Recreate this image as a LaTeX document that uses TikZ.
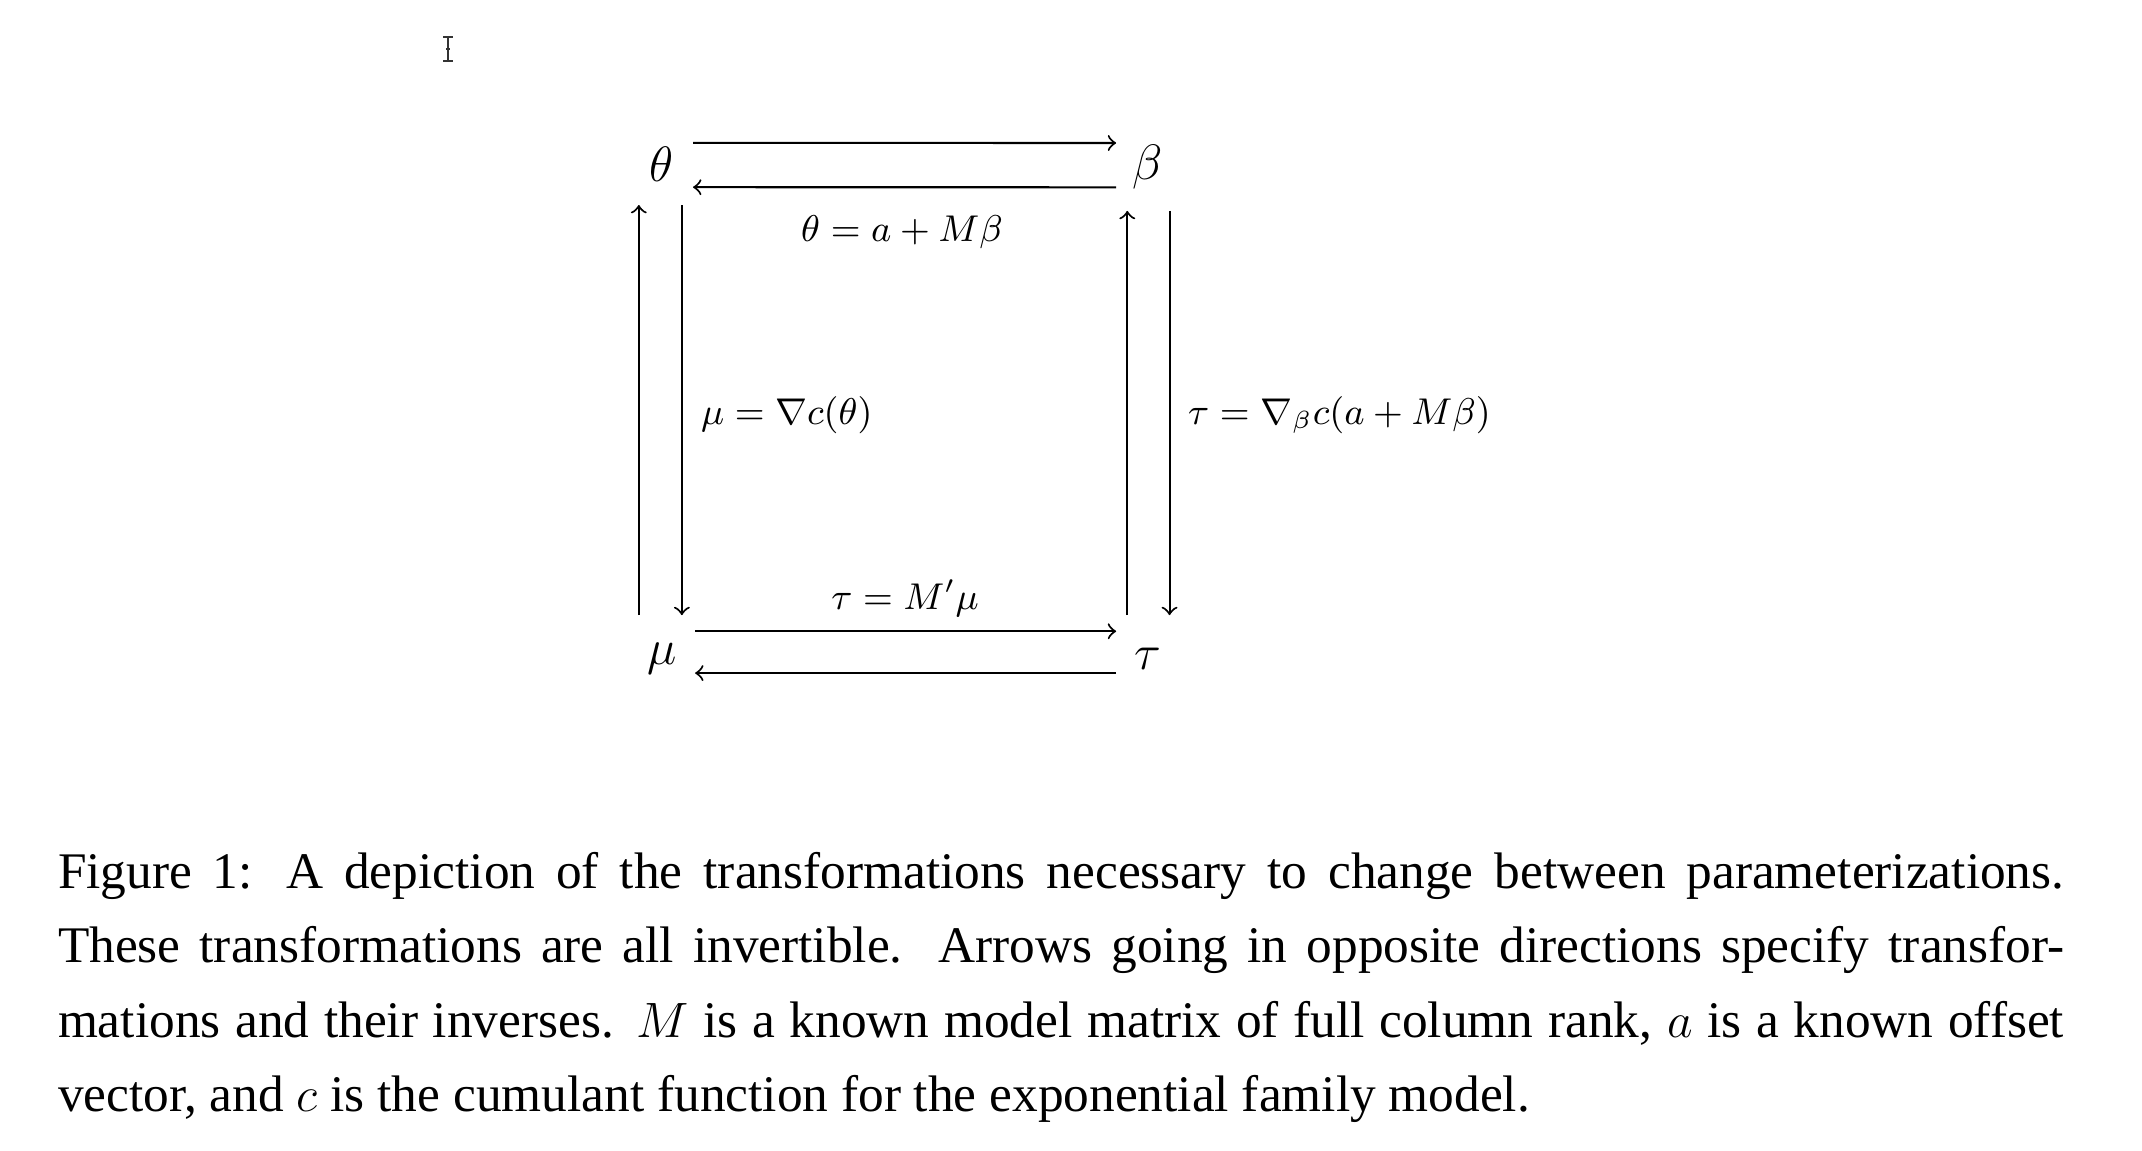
\documentclass[tikz,border=0pt,12pt]{standalone}
\usepackage[no-math]{fontspec}
\setmainfont{Liberation Serif}
\usepackage{amsmath}

\begin{document}
\begin{tikzpicture}[x=0.2415pt,y=-0.2415pt,line width=0.5pt,
	every node/.style={inner sep=0pt},
	lbl/.style={font=\fontsize{8.85}{11}\selectfont}]
	\useasboundingbox (0,0) rectangle (2142,1150);
	% text cursor
	\draw[line width=0.6pt,black!80] (448,37) -- (448,61) (443,37) -- (453,37) (443,61) -- (453,61) (446,49) -- (450,49);
	\draw
	(662,164) node[black] (theta) {$\theta$}
	(1148,167) node[black] (beta) {$\beta$}
	(662,659) node[black] (mu) {$\mu$}
	(1148,659) node[black] (tau) {$\tau$}
	;
	\path[->] ([xshift=7.5pt,yshift=5.1pt]theta.center) edge ([xshift=-7.7pt,yshift=5.8pt]beta.center);
	\path[->] ([xshift=-7.7pt,yshift=-4.9pt]beta.center) edge ([xshift=7.5pt,yshift=-5.6pt]theta.center);
	\path[->] ([xshift=8pt,yshift=6.7pt]mu.center) edge ([xshift=-7.7pt,yshift=6.7pt]tau.center);
	\path[->] ([xshift=-7.7pt,yshift=-3.4pt]tau.center) edge ([xshift=8pt,yshift=-3.4pt]mu.center);
	\path[->] ([xshift=-5.6pt,yshift=10.6pt]mu.center) edge ([xshift=-5.6pt,yshift=-9.9pt]theta.center);
	\path[->] ([xshift=4.8pt,yshift=-9.9pt]theta.center) edge ([xshift=4.8pt,yshift=10.6pt]mu.center);
	\path[->] ([xshift=-5pt,yshift=10.6pt]tau.center) edge ([xshift=-5pt,yshift=-10.6pt]beta.center);
	\path[->] ([xshift=5.2pt,yshift=-10.6pt]beta.center) edge ([xshift=5.2pt,yshift=10.6pt]tau.center);
	\node[lbl] (topeq) at (902,232) {$\theta = a + M\beta$};
	\node[lbl,anchor=west] (lefteq) at (700,415) {$\mu = \nabla c(\theta)$};
	\node[lbl,anchor=west] (righteq) at (1187,415) {$\tau = \nabla_\beta c(a + M\beta)$};
	\node[lbl] (boteq) at (905,598) {$\tau = M'\mu$};
	\node[anchor=base west,text width=484.5pt,align=justify,font=\fontsize{12.4}{18}\selectfont] (caption) at (57,888)
	{Figure 1: A depiction of the transformations necessary to change between parameterizations.\linebreak
	These transformations are all invertible. Arrows going in opposite directions specify transfor-\linebreak
	mations and their inverses. $M$ is a known model matrix of full column rank, $a$ is a known offset\linebreak
	vector, and $c$ is the cumulant function for the exponential family model.};
\end{tikzpicture}
\end{document}
